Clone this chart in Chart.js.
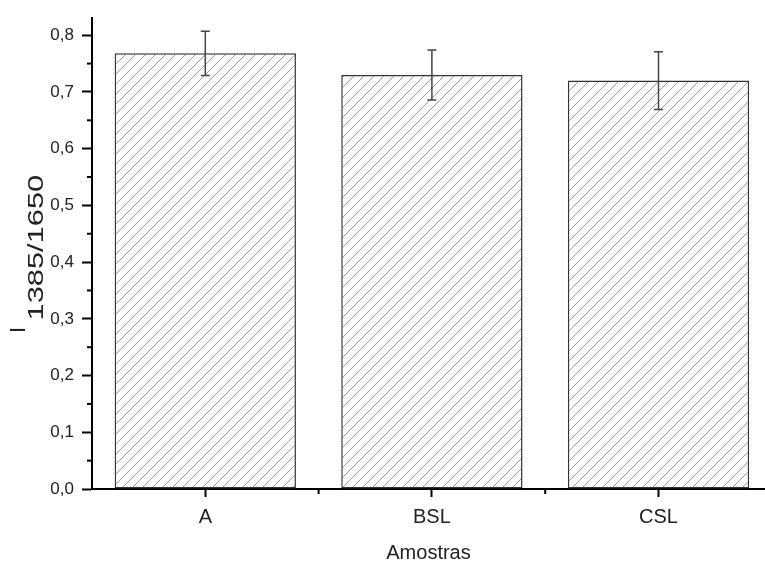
<!DOCTYPE html>
<html>
<head>
<meta charset="utf-8">
<script src="https://cdn.jsdelivr.net/npm/chart.js@4"></script>
<style>
  html, body { margin: 0; padding: 0; background: #fff; }
  #wrap { width: 765px; height: 561px; }
</style>
</head>
<body>
<div id="wrap"><canvas id="myChart"></canvas></div>
<script>
const categories = ['A', 'BSL', 'CSL'];
const values = [0.768, 0.730, 0.720];
const errors = [0.039, 0.044, 0.051];
const yTicks = [0, 0.1, 0.2, 0.3, 0.4, 0.5, 0.6, 0.7, 0.8];
const yMinor = [0.05, 0.15, 0.25, 0.35, 0.45, 0.55, 0.65, 0.75];
const xTicks = [0, 1, 2];
const xMinor = [0.5, 1.5];

// diagonal hatch like the origin plot
function makeHatch() {
    const c = document.createElement('canvas');
    c.width = 10; c.height = 10;
    const g = c.getContext('2d');
    g.fillStyle = '#fff';
    g.fillRect(0, 0, 10, 10);
    g.strokeStyle = '#9a9a9a';
    g.lineWidth = 1;
    g.beginPath();
    g.moveTo(-1, 11); g.lineTo(11, -1);
    g.moveTo(-1, 1); g.lineTo(1, -1);
    g.moveTo(9, 11); g.lineTo(11, 9);
    g.stroke();
    return g.createPattern(c, 'repeat');
}

const fontName = '"Liberation Sans", Arial, sans-serif';

const extras = {
    id: 'extras',
    afterDatasetsDraw(chart) {
        const ctx = chart.ctx;
        const xs = chart.scales.x, ys = chart.scales.y;
        const meta = chart.getDatasetMeta(0);
        ctx.save();
        // error bars
        ctx.strokeStyle = '#444';
        ctx.lineWidth = 1.5;
        meta.data.forEach((bar, i) => {
            const x = bar.x;
            const top = ys.getPixelForValue(values[i] + errors[i]);
            const bot = ys.getPixelForValue(values[i] - errors[i]);
            ctx.beginPath();
            ctx.moveTo(x, top); ctx.lineTo(x, bot);
            ctx.moveTo(x - 4.5, top); ctx.lineTo(x + 4.5, top);
            ctx.moveTo(x - 4.5, bot); ctx.lineTo(x + 4.5, bot);
            ctx.stroke();
        });
        // minor ticks
        ctx.strokeStyle = '#000';
        ctx.lineWidth = 2;
        const left = chart.chartArea.left, bottom = chart.chartArea.bottom;
        yMinor.forEach(v => {
            const y = ys.getPixelForValue(v);
            ctx.beginPath(); ctx.moveTo(left - 5, y); ctx.lineTo(left, y); ctx.stroke();
        });
        xMinor.forEach(v => {
            const x = xs.getPixelForValue(v);
            ctx.beginPath(); ctx.moveTo(x, bottom); ctx.lineTo(x, bottom + 5); ctx.stroke();
        });
        // y title with subscript
        ctx.fillStyle = '#222';
        ctx.translate(25, 333);
        ctx.rotate(-Math.PI / 2);
        ctx.textBaseline = 'alphabetic';
        ctx.textAlign = 'left';
        ctx.font = '22px ' + fontName;
        ctx.fillText('I', 0, 0);
        ctx.scale(1.4, 1);
        ctx.fillText('1385/1650', 9, 18);
        ctx.restore();
    }
};

const ctx = document.getElementById('myChart').getContext('2d');

const myChart = new Chart(ctx, {
    type: 'bar',
    data: {
        datasets: [{
            data: categories.map((c, i) => ({ x: i, y: values[i] })),
            backgroundColor: makeHatch(),
            borderColor: '#333',
            borderWidth: 1.5,
            borderSkipped: false,
            categoryPercentage: 1,
            barPercentage: 0.8
        }]
    },
    options: {
        responsive: true,
        maintainAspectRatio: false,
        animation: false,
        layout: { padding: { top: 15, right: 0, left: 0, bottom: 0 } },
        plugins: {
            legend: false,
            tooltip: { enabled: false }
        },
        scales: {
            x: {
                type: 'linear',
                offset: false,
                min: -0.5,
                max: 2.47,
                afterBuildTicks: s => { s.ticks = xTicks.map(v => ({ value: v })); },
                afterFit: s => { s.height = 72; },
                grid: {
                    offset: false,
                    drawOnChartArea: false,
                    tickLength: 8,
                    tickColor: '#000',
                    tickWidth: 2
                },
                border: { color: '#000', width: 2 },
                ticks: {
                    padding: 8,
                    color: '#222',
                    font: { family: fontName, size: 20 },
                    callback: v => categories[v]
                },
                title: {
                    display: true,
                    text: 'Amostras',
                    color: '#222',
                    font: { family: fontName, size: 20, lineHeight: 0.8 },
                    padding: { top: 0, bottom: 0 }
                }
            },
            y: {
                min: 0,
                max: 0.83,
                afterBuildTicks: s => { s.ticks = yTicks.map(v => ({ value: v })); },
                afterFit: s => { s.width = 92; },
                grid: {
                    drawOnChartArea: false,
                    tickLength: 10,
                    tickColor: '#000',
                    tickWidth: 2
                },
                border: { color: '#000', width: 2 },
                ticks: {
                    padding: 8,
                    color: '#222',
                    font: { family: fontName, size: 17 },
                    callback: v => v.toFixed(1).replace('.', ',')
                }
            }
        }
    },
    plugins: [extras]
});
</script>
</body>
</html>
